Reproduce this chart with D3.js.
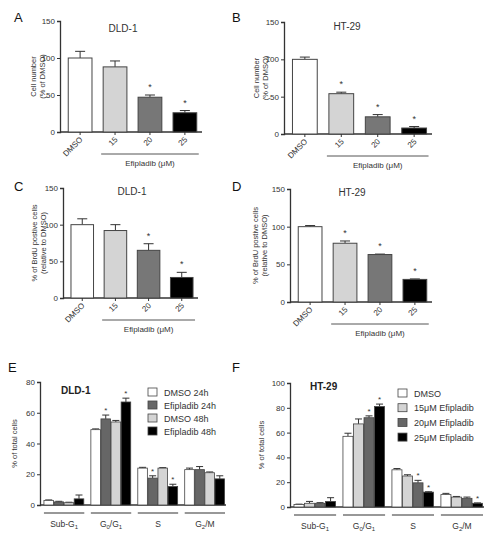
<!DOCTYPE html><html><head><script src="https://cdn.jsdelivr.net/npm/d3@7"></script>
<style>body{margin:0;background:#fff}text{font-family:"Liberation Sans",Arial,sans-serif;fill:#333}</style></head><body>
<svg id="s" width="500" height="538"></svg>
<script>
const doseCats=["DMSO","15","20","25"];
const doseColors=["#ffffff","#d4d4d4","#777777","#000000"];
const aVals=[100,88,47,26], aErr=[9,8,3,3], aStar=[0,0,1,1];
const bVals=[100,54,23,8], bErr=[3,2,3,2], bStar=[0,1,1,1];
const cVals=[100,92,65,28], cErr=[8,8,9,7], cStar=[0,0,1,1];
const dVals=[100,78,63,30], dErr=[1.5,3,0.6,0.6], dStar=[0,1,1,1];
const phases=["Sub-G1","G0/G1","S","G2/M"];
const eSeries=["DMSO 24h","Efipladib 24h","DMSO 48h","Efipladib 48h"];
const eColors=["#ffffff","#666666","#d4d4d4","#000000"];
const eVals=[[3,2,1.5,4],[49,56,54,67],[24,17.5,24,12],[23,23,21,17]];
const eErr=[[0.3,0.4,0.3,2.5],[0.5,2.5,1,2.5],[0.5,1.5,0.3,1.5],[1,2,0.5,2]];
const eStar=[[0,0,0,0],[0,1,0,1],[0,1,0,1],[0,0,0,0]];
const fSeries=["DMSO","15μM  Efipladib","20μM  Efipladib","25μM  Efipladib"];
const fColors=["#ffffff","#d4d4d4","#666666","#000000"];
const fVals=[[2,3,3,4.5],[57,67,72,81],[30,25,19.5,12],[10,8,7,3]];
const fErr=[[0.3,1.5,0.5,3],[2.5,4,1.5,2],[1,1,2,0.3],[1,0.5,1,0.3]];
const fStar=[[0,0,0,0],[0,0,1,1],[0,0,1,1],[0,0,0,1]];
const svg=d3.select("#s");
function axisY(g,y,x0,ticks,label,lx,fs){
  const ax=g.append("g").attr("transform",`translate(${x0},0)`).call(d3.axisLeft(y).tickValues(ticks).tickSize(3).tickPadding(2));
  ax.selectAll("text").attr("font-size",fs||8).style("fill","#333");
  ax.select(".domain").attr("stroke","#333").attr("stroke-width",1.3);
  ax.selectAll(".tick line").attr("stroke","#333");
  const my=(y.range()[0]+y.range()[1])/2;
  const t=g.append("text").attr("transform",`translate(${lx},${my}) rotate(-90)`).attr("text-anchor","middle").attr("font-size",7.5);
  label.forEach((l,i)=>t.append("tspan").attr("x",0).attr("dy",i?9:0).text(l));
}
function dosePanel(o){
  const g=svg.append("g");
  const y=d3.scaleLinear().domain([0,150]).range([o.y0,o.y150]);
  const x=d3.scaleBand().domain(doseCats).range([o.x0+3,o.x1]).paddingInner(0.32).paddingOuter(0.15);
  g.append("line").attr("x1",o.x0).attr("x2",o.x1).attr("y1",o.y0).attr("y2",o.y0).attr("stroke","#333").attr("stroke-width",1.3);
  doseCats.forEach((c,i)=>{
    const v=o.vals[i],e=o.err[i],bx=x(c),bw=x.bandwidth(),cx=bx+bw/2;
    g.append("line").attr("x1",cx).attr("x2",cx).attr("y1",y(v)).attr("y2",y(v+e)).attr("stroke","#333");
    g.append("line").attr("x1",cx-5).attr("x2",cx+5).attr("y1",y(v+e)).attr("y2",y(v+e)).attr("stroke","#333");
    g.append("rect").attr("x",bx).attr("y",y(v)).attr("width",bw).attr("height",y(0)-y(v)).attr("fill",doseColors[i]).attr("stroke","#444").attr("stroke-width",1);
    if(o.star[i]) g.append("text").attr("x",cx).attr("y",y(v+e)-5).attr("text-anchor","middle").attr("font-size",9).text("*");
    g.append("line").attr("x1",cx).attr("x2",cx).attr("y1",y(0)).attr("y2",y(0)+3).attr("stroke","#333");
    g.append("text").attr("transform",`translate(${cx+3},${y(0)+8}) rotate(-45)`).attr("text-anchor","end").attr("font-size",8).text(c);
  });
  axisY(g,y,o.x0,[0,50,100,150],o.ylab,o.lx);
  const b1=x("15")-2,b2=x("25")+x.bandwidth()+2;
  g.append("line").attr("x1",b1).attr("x2",b2).attr("y1",o.y0+22).attr("y2",o.y0+22).attr("stroke","#555");
  g.append("text").attr("x",(b1+b2)/2).attr("y",o.y0+34).attr("text-anchor","middle").attr("font-size",8).text("Efipladib (μM)");
  g.append("text").attr("x",o.tx).attr("y",o.ty).attr("text-anchor","middle").attr("font-size",10).text(o.title);
  g.append("text").attr("x",o.px).attr("y",o.py).attr("font-size",13).style("fill","#111").text(o.panel);
}
dosePanel({x0:60,x1:202,y0:132,y150:21,vals:aVals,err:aErr,star:aStar,ylab:["Cell number","(% of DMSO)"],lx:36,title:"DLD-1",tx:123,ty:32,panel:"A",px:14,py:22});
dosePanel({x0:284,x1:432,y0:134,y150:22,vals:bVals,err:bErr,star:bStar,ylab:["Cell number","(% of DMSO)"],lx:259,title:"HT-29",tx:347,ty:30,panel:"B",px:232,py:22});
dosePanel({x0:63,x1:198,y0:298,y150:188,vals:cVals,err:cErr,star:cStar,ylab:["% of BrdU postive cells","(relative to DMSO)"],lx:37,title:"DLD-1",tx:132,ty:195,panel:"C",px:14,py:191});
dosePanel({x0:290,x1:432,y0:302,y150:189,vals:dVals,err:dErr,star:dStar,ylab:["% of BrdU postive cells","(relative to DMSO)"],lx:258,title:"HT-29",tx:352,ty:196,panel:"D",px:232,py:191});
function phasePanel(o){
  const g=svg.append("g");
  const y=d3.scaleLinear().domain([0,o.max]).range([o.y0,o.ytop]);
  const x=d3.scaleBand().domain(phases).range([o.x0+3,o.x1]).paddingInner(0.14).paddingOuter(0.02);
  const xs=d3.scaleBand().domain([0,1,2,3]).range([0,x.bandwidth()]).padding(0);
  g.append("line").attr("x1",o.x0).attr("x2",o.x1).attr("y1",o.y0).attr("y2",o.y0).attr("stroke","#333").attr("stroke-width",1.3);
  phases.forEach((p,pi)=>{
    for(let s=0;s<4;s++){
      const v=o.vals[pi][s],e=o.err[pi][s],bx=x(p)+xs(s),bw=xs.bandwidth()-0.5,cx=bx+bw/2;
      g.append("line").attr("x1",cx).attr("x2",cx).attr("y1",y(v)).attr("y2",y(v+e)).attr("stroke","#333");
      g.append("line").attr("x1",cx-3.5).attr("x2",cx+3.5).attr("y1",y(v+e)).attr("y2",y(v+e)).attr("stroke","#333");
      g.append("rect").attr("x",bx).attr("y",y(v)).attr("width",bw).attr("height",y(0)-y(v)).attr("fill",o.colors[s]).attr("stroke","#444").attr("stroke-width",0.8);
      if(o.star[pi][s]) g.append("text").attr("x",cx).attr("y",y(v+e)-2).attr("text-anchor","middle").attr("font-size",8).text("*");
    }
    g.append("line").attr("x1",x(p)).attr("x2",x(p)+x.bandwidth()).attr("y1",o.y0+8).attr("y2",o.y0+8).attr("stroke","#333").attr("stroke-width",1.2);
    const t=g.append("text").attr("x",x(p)+x.bandwidth()/2).attr("y",o.y0+22).attr("text-anchor","middle").attr("font-size",8.5);
    const parts={"Sub-G1":[["Sub-G",0],["1",1]],"G0/G1":[["G",0],["0",1],["/G",0],["1",1]],"S":[["S",0]],"G2/M":[["G",0],["2",1],["/M",0]]}[p];
    parts.forEach(([s,sub])=>t.append("tspan").attr("font-size",sub?6:8.5).attr("dy",sub?2:(s==parts[0][0]?0:-2)).text(s));
  });
  axisY(g,y,o.x0,o.ticks,["% of total cells"],o.lx);
  o.series.forEach((s,i)=>{
    g.append("rect").attr("x",o.lgx).attr("y",o.lgy+i*o.lgs-4).attr("width",9).attr("height",8).attr("fill",o.colors[i]).attr("stroke","#444").attr("stroke-width",0.8);
    g.append("text").attr("x",o.lgx+16).attr("y",o.lgy+i*o.lgs+3.5).attr("font-size",9).text(s);
  });
  g.append("text").attr("x",o.tx).attr("y",o.ty).attr("font-size",10).style("font-weight","bold").style("fill","#222").text(o.title);
  g.append("text").attr("x",o.px).attr("y",o.py).attr("font-size",13).style("fill","#111").text(o.panel);
}
phasePanel({x0:40,x1:226,y0:505,ytop:382,max:80,ticks:[0,20,40,60,80],vals:eVals,err:eErr,star:eStar,colors:eColors,series:eSeries,lx:17,lgx:148,lgy:392,lgs:13,title:"DLD-1",tx:61,ty:394,panel:"E",px:8,py:372});
phasePanel({x0:290,x1:484,y0:507,ytop:383,max:100,ticks:[0,20,40,60,80,100],vals:fVals,err:fErr,star:fStar,colors:fColors,series:fSeries,lx:264,lgx:398,lgy:393,lgs:14.7,title:"HT-29",tx:310,ty:390,panel:"F",px:232,py:372});
</script></body></html>
